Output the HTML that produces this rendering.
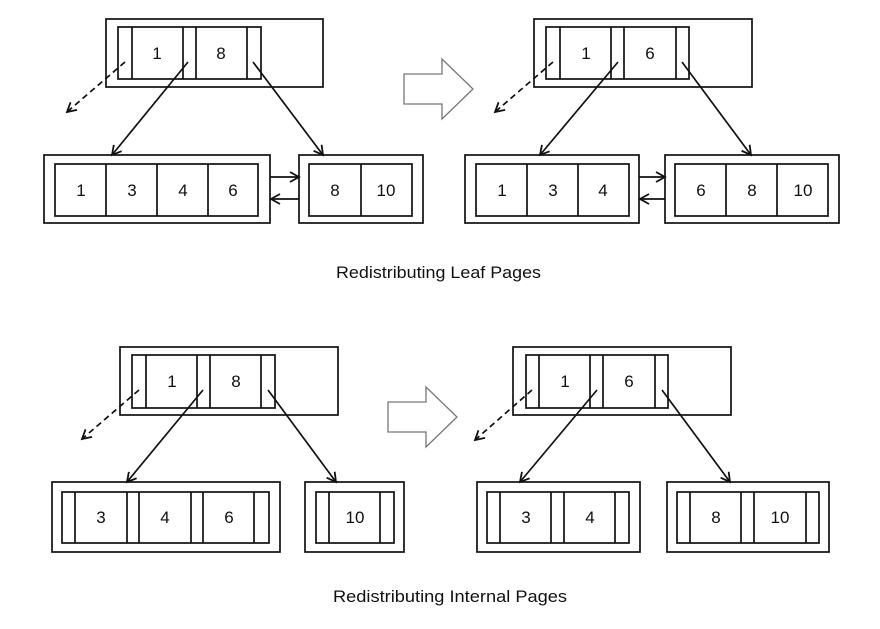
<!DOCTYPE html>
<html><head><meta charset="utf-8"><style>
html,body{margin:0;padding:0;background:#fff;}
svg{display:block;}
text{font-family:"Liberation Sans",sans-serif;font-size:17px;fill:#111;}
</style></head><body>
<svg width="880" height="629" viewBox="0 0 880 629" xmlns="http://www.w3.org/2000/svg">
<defs>
<marker id="ah" markerWidth="12" markerHeight="12" refX="10" refY="6" orient="auto" markerUnits="userSpaceOnUse">
<path d="M1,1 L10,6 L1,11" fill="none" stroke="#111" stroke-width="1.8"/>
</marker>
</defs>
<g fill="none" stroke="#111" stroke-width="1.7">
<rect x="106" y="19" width="217" height="68"/>
<rect x="118" y="27" width="143" height="52"/>
<line x1="132" y1="27" x2="132" y2="79"/><line x1="183" y1="27" x2="183" y2="79"/>
<line x1="196" y1="27" x2="196" y2="79"/><line x1="247" y1="27" x2="247" y2="79"/>
<line x1="125" y1="62" x2="67" y2="112" stroke-dasharray="6,4" marker-end="url(#ah)"/>
<line x1="188" y1="62" x2="112" y2="155" marker-end="url(#ah)"/>
<line x1="253" y1="62" x2="323" y2="155" marker-end="url(#ah)"/>
<rect x="44" y="155" width="226" height="68"/>
<rect x="55" y="164" width="203" height="52"/>
<line x1="106" y1="164" x2="106" y2="216"/><line x1="157" y1="164" x2="157" y2="216"/><line x1="208" y1="164" x2="208" y2="216"/>
<rect x="299" y="155" width="124" height="68"/>
<rect x="309" y="164" width="103" height="52"/>
<line x1="361" y1="164" x2="361" y2="216"/>
<line x1="270" y1="177" x2="299" y2="177" marker-end="url(#ah)"/>
<line x1="299" y1="199" x2="271" y2="199" marker-end="url(#ah)"/>
<rect x="534" y="19" width="218" height="68"/>
<rect x="546" y="27" width="143" height="52"/>
<line x1="560" y1="27" x2="560" y2="79"/><line x1="611" y1="27" x2="611" y2="79"/>
<line x1="624" y1="27" x2="624" y2="79"/><line x1="676" y1="27" x2="676" y2="79"/>
<line x1="553" y1="62" x2="495" y2="112" stroke-dasharray="6,4" marker-end="url(#ah)"/>
<line x1="618" y1="62" x2="540" y2="155" marker-end="url(#ah)"/>
<line x1="682" y1="62" x2="751" y2="155" marker-end="url(#ah)"/>
<rect x="465" y="155" width="174" height="68"/>
<rect x="476" y="164" width="153" height="52"/>
<line x1="527" y1="164" x2="527" y2="216"/><line x1="578" y1="164" x2="578" y2="216"/>
<rect x="665" y="155" width="174" height="68"/>
<rect x="675" y="164" width="153" height="52"/>
<line x1="726" y1="164" x2="726" y2="216"/><line x1="777" y1="164" x2="777" y2="216"/>
<line x1="639" y1="177" x2="665" y2="177" marker-end="url(#ah)"/>
<line x1="665" y1="199" x2="640" y2="199" marker-end="url(#ah)"/>
<rect x="120" y="347" width="218" height="68"/>
<rect x="132" y="355" width="143" height="53"/>
<line x1="146" y1="355" x2="146" y2="408"/><line x1="197" y1="355" x2="197" y2="408"/>
<line x1="210" y1="355" x2="210" y2="408"/><line x1="261" y1="355" x2="261" y2="408"/>
<line x1="139" y1="390" x2="82" y2="439" stroke-dasharray="6,4" marker-end="url(#ah)"/>
<line x1="203" y1="390" x2="127" y2="482" marker-end="url(#ah)"/>
<line x1="268" y1="390" x2="336" y2="482" marker-end="url(#ah)"/>
<rect x="52" y="482" width="228" height="70"/>
<rect x="62" y="492" width="207" height="51"/>
<line x1="75" y1="492" x2="75" y2="543"/><line x1="127" y1="492" x2="127" y2="543"/>
<line x1="139" y1="492" x2="139" y2="543"/><line x1="191" y1="492" x2="191" y2="543"/>
<line x1="203" y1="492" x2="203" y2="543"/><line x1="254" y1="492" x2="254" y2="543"/>
<rect x="305" y="482" width="99" height="70"/>
<rect x="316" y="492" width="78" height="51"/>
<line x1="329" y1="492" x2="329" y2="543"/><line x1="380" y1="492" x2="380" y2="543"/>
<rect x="513" y="347" width="218" height="68"/>
<rect x="526" y="355" width="142" height="53"/>
<line x1="539" y1="355" x2="539" y2="408"/><line x1="590" y1="355" x2="590" y2="408"/>
<line x1="603" y1="355" x2="603" y2="408"/><line x1="655" y1="355" x2="655" y2="408"/>
<line x1="532" y1="390" x2="475" y2="440" stroke-dasharray="6,4" marker-end="url(#ah)"/>
<line x1="597" y1="390" x2="520" y2="482" marker-end="url(#ah)"/>
<line x1="662" y1="390" x2="730" y2="482" marker-end="url(#ah)"/>
<rect x="477" y="482" width="163" height="70"/>
<rect x="487" y="492" width="142" height="51"/>
<line x1="500" y1="492" x2="500" y2="543"/><line x1="551" y1="492" x2="551" y2="543"/>
<line x1="564" y1="492" x2="564" y2="543"/><line x1="615" y1="492" x2="615" y2="543"/>
<rect x="667" y="482" width="162" height="70"/>
<rect x="677" y="492" width="142" height="51"/>
<line x1="690" y1="492" x2="690" y2="543"/><line x1="741" y1="492" x2="741" y2="543"/>
<line x1="754" y1="492" x2="754" y2="543"/><line x1="806" y1="492" x2="806" y2="543"/>
</g>
<path d="M404,74 L442,74 L442,59 L473,89 L442,119 L442,104 L404,104 Z" fill="#fff" stroke="#777" stroke-width="1.3"/>
<path d="M388,402 L426,402 L426,387 L457,417 L426,447 L426,432 L388,432 Z" fill="#fff" stroke="#777" stroke-width="1.3"/>
<g text-anchor="middle">
<text x="157" y="59">1</text><text x="221" y="59">8</text>
<text x="81" y="196">1</text><text x="132" y="196">3</text><text x="183" y="196">4</text><text x="233" y="196">6</text>
<text x="335" y="196">8</text><text x="386" y="196">10</text>
<text x="586" y="59">1</text><text x="650" y="59">6</text>
<text x="502" y="196">1</text><text x="553" y="196">3</text><text x="603" y="196">4</text>
<text x="701" y="196">6</text><text x="752" y="196">8</text><text x="803" y="196">10</text>
<text x="172" y="387">1</text><text x="236" y="387">8</text>
<text x="101" y="523">3</text><text x="165" y="523">4</text><text x="229" y="523">6</text>
<text x="355" y="523">10</text>
<text x="565" y="387">1</text><text x="629" y="387">6</text>
<text x="526" y="523">3</text><text x="590" y="523">4</text>
<text x="716" y="523">8</text><text x="780" y="523">10</text>
</g>
<text x="336" y="278" textLength="205" lengthAdjust="spacingAndGlyphs">Redistributing Leaf Pages</text>
<text x="333" y="602" textLength="234" lengthAdjust="spacingAndGlyphs">Redistributing Internal Pages</text>
</svg>
</body></html>
